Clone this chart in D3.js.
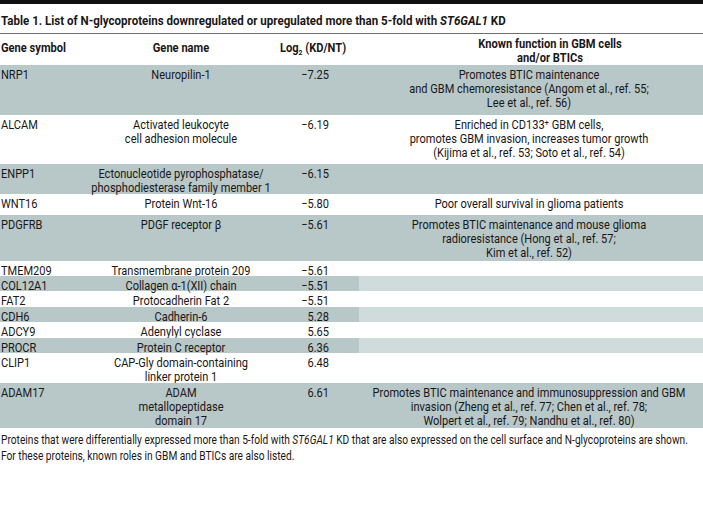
<!DOCTYPE html>
<html><head><meta charset="utf-8">
<script src="https://cdn.jsdelivr.net/npm/d3@7"></script>
<style>
html,body{margin:0;padding:0;background:#fff;}
svg{display:block;}
text{font-family:Roboto,"Noto Sans",sans-serif;fill:#1a1718;}
</style></head>
<body>
<script>
// ---------- data ----------
const geneSymbols = ["NRP1","ALCAM","ENPP1","WNT16","PDGFRB","TMEM209","COL12A1","FAT2","CDH6","ADCY9","PROCR","CLIP1","ADAM17"];
const geneNames = [
  ["Neuropilin-1"],
  ["Activated leukocyte","cell adhesion molecule"],
  ["Ectonucleotide pyrophosphatase/","phosphodiesterase family member 1"],
  ["Protein Wnt-16"],
  ["PDGF receptor β"],
  ["Transmembrane protein 209"],
  ["Collagen α-1(XII) chain"],
  ["Protocadherin Fat 2"],
  ["Cadherin-6"],
  ["Adenylyl cyclase"],
  ["Protein C receptor"],
  ["CAP-Gly domain-containing","linker protein 1"],
  ["ADAM","metallopeptidase","domain 17"]
];
const log2Values = [-7.25,-6.19,-6.15,-5.80,-5.61,-5.61,-5.51,-5.51,5.28,5.65,6.36,6.48,6.61];
const knownFunctions = [
  ["Promotes BTIC maintenance","and GBM chemoresistance (Angom et al., ref. 55;","Lee et al., ref. 56)"],
  ["Enriched in CD133⁺ GBM cells,","promotes GBM invasion, increases tumor growth","(Kijima et al., ref. 53; Soto et al., ref. 54)"],
  [],
  ["Poor overall survival in glioma patients"],
  ["Promotes BTIC maintenance and mouse glioma","radioresistance (Hong et al., ref. 57;","Kim et al., ref. 52)"],
  [],[],[],[],[],[],[],
  ["Promotes BTIC maintenance and immunosuppression and GBM","invasion (Zheng et al., ref. 77; Chen et al., ref. 78;","Wolpert et al., ref. 79; Nandhu et al., ref. 80)"]
];
const lightFunctionCells = ["COL12A1","CDH6","PROCR"];
const headers = [["Gene symbol"],["Gene name"],["LOG2"],["Known function in GBM cells","and/or BTICs"]];

// ---------- layout ----------
const W = 703, H = 523;
const rowHeights = [50,49,30,21,46,15,15,16,15,16,15,30,45];
const tableTop = 65;
const DARK = "#b8c7c7", LIGHT = "#d0dcdb";

const svg = d3.select("body").append("svg").attr("width", W).attr("height", H);

function measure(str, size, weight){
  const t = svg.append("text").attr("font-size", size).attr("font-weight", weight).text(str);
  const w = t.node().getComputedTextLength(); t.remove(); return w;
}
const BODY = 13;
const sxBody = 189 / measure("Poor overall survival in glioma patients", BODY, 400);
const sxBold = 507 / measure("Table 1. List of N-glycoproteins downregulated or upregulated more than 5-fold with ST6GAL1 KD", 13.5, 700);
const sxFoot = 689 / measure("Proteins that were differentially expressed more than 5-fold with ST6GAL1 KD that are also expressed on the cell surface and N-glycoproteins are shown.", 12.5, 400);

function txt(g, x, y, sx, anchor, size, weight){
  return g.append("text")
    .attr("transform", `translate(${x},${y}) scale(${sx},1)`)
    .attr("text-anchor", anchor).attr("font-size", size).attr("font-weight", weight);
}

// top bar and title
svg.append("rect").attr("x",0).attr("y",0).attr("width",W).attr("height",4).attr("fill","#111");
const title = txt(svg, 1, 24.5, sxBold, "start", 13.5, 700);
title.append("tspan").text("Table 1. List of N-glycoproteins downregulated or upregulated more than 5-fold with ");
title.append("tspan").attr("font-style","italic").text("ST6GAL1");
title.append("tspan").text(" KD");
svg.append("line").attr("x1",0).attr("x2",W).attr("y1",33.5).attr("y2",33.5).attr("stroke","#6d6d6d").attr("stroke-width",1);

const colX = d3.scaleOrdinal().domain([0,1,2,3]).range([1,181,329,529]);
const colAnchor = ["start","middle","end","middle"];

// header
const hdrX = [1,181,313,550];
headers.forEach((lines,i)=>{
  lines.forEach((l,j)=>{
    const t = txt(svg, hdrX[i], 51.5 - (lines.length>1?3.5:0) + j*14, sxBold, i===0?"start":"middle", 13, 700);
    if (l === "LOG2") {
      t.append("tspan").text("Log");
      t.append("tspan").attr("font-size",8).attr("dy",3).text("2");
      t.append("tspan").attr("dy",-3).text(" (KD/NT)");
    } else t.text(l);
  });
});

const cum = [tableTop];
rowHeights.forEach(h=>cum.push(cum[cum.length-1]+h));
const yRow = d3.scaleOrdinal().domain(geneSymbols).range(cum.slice(0,-1));
const fmt = v => (v<0 ? "−" : "") + d3.format(".2f")(Math.abs(v));

const rows = svg.selectAll("g.row").data(geneSymbols).join("g").attr("class","row")
  .attr("transform", d=>`translate(0,${yRow(d)})`);

rows.each(function(sym, i){
  const g = d3.select(this);
  const h = rowHeights[i];
  if (i % 2 === 0) {
    g.append("rect").attr("x",0).attr("y",0).attr("width",W).attr("height",h).attr("fill",DARK);
    if (lightFunctionCells.includes(sym))
      g.append("rect").attr("x",359).attr("y",0).attr("width",W-359).attr("height",h).attr("fill",LIGHT);
  }
  const base = 13.5;
  const cells = [[sym], geneNames[i], [fmt(log2Values[i])], knownFunctions[i]];
  cells.forEach((lines,c)=>{
    lines.forEach((l,j)=>{
      txt(g, colX(c), base + j*14, sxBody, colAnchor[c], BODY, 400).text(l);
    });
  });
});

// footnote
const f1 = txt(svg, 1, 443.5, sxFoot, "start", 12.5, 400);
f1.append("tspan").text("Proteins that were differentially expressed more than 5-fold with ");
f1.append("tspan").attr("font-style","italic").text("ST6GAL1");
f1.append("tspan").text(" KD that are also expressed on the cell surface and N-glycoproteins are shown.");
txt(svg, 1, 459.5, sxFoot, "start", 12.5, 400).text("For these proteins, known roles in GBM and BTICs are also listed.");
</script>
</body></html>
